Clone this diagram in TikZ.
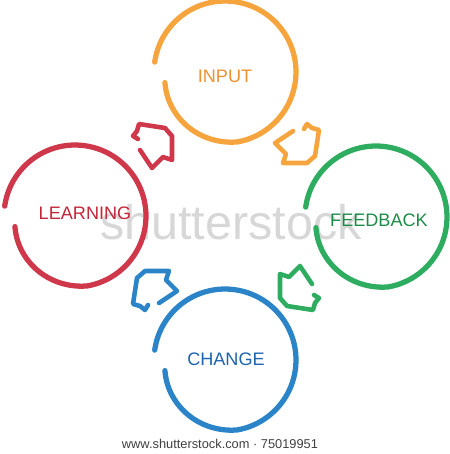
\documentclass[tikz,border=0pt]{standalone}
\usepackage{fontspec}
\setmainfont{Liberation Sans}
\usepackage{xcolor}
\usepackage{tikz}

\definecolor{orangeink}{RGB}{246,164,62}
\definecolor{redink}{RGB}{207,55,75}
\definecolor{greenink}{RGB}{46,172,96}
\definecolor{blueink}{RGB}{43,132,200}
\definecolor{orangetext}{RGB}{236,146,48}
\definecolor{redtext}{RGB}{196,36,56}
\definecolor{greentext}{RGB}{28,140,72}
\definecolor{bluetext}{RGB}{28,100,176}

\begin{document}
\begin{tikzpicture}[x=0.02cm, y=-0.02cm,
    ring/.style={line width=3pt, line cap=round},
    bentarrow/.style={line width=2.6pt, line cap=round, line join=round},
    every node/.style={font=\fontsize{10.3}{12}\selectfont}]
    \useasboundingbox (0,0) rectangle (450,454);

    % watermark
    \node[text=gray!45, opacity=0.7, font=\fontsize{27.6}{30}\selectfont] (mark) at (231,222) {shutterstock};

    % rings
    \coordinate (mid) at (226,217);
    \coordinate (inputring) at (225,72);
    \coordinate (learningring) at (75,216);
    \coordinate (feedbackring) at (376,217);
    \coordinate (changering) at (225,360);
    \foreach \ctr/\col in {inputring/orangeink, learningring/redink, feedbackring/greenink, changering/blueink}
        \draw[ring, \col, shift={(\ctr)}] plot[domain=170:-172, samples=100, smooth] (\x:{71-10*max(0,1-(170-\x)/90)});

    % bent arrows, one turned a quarter further each time
    \foreach \ang/\col in {0/redink, -90/orangeink, -180/greenink, -270/blueink}
        \draw[bentarrow, \col, rotate around={\ang:(mid)}]
            (140,150) -- (152,168) -- (163,157) -- (172,160) -- (172,136) -- (165,128)
            -- (139,124) -- (137,131) -- (133,136) -- (138,139);

    % labels
    \node[text=orangetext] (input) at (225,76) {INPUT};
    \node[text=redtext] (learning) at (85,213) {LEARNING};
    \node[text=greentext] (feedback) at (379,220) {FEEDBACK};
    \node[text=bluetext] (change) at (226,359) {CHANGE};

    \node[text=black!75, font=\fontsize{7.3}{9}\selectfont] (credit) at (220,444) {www.shutterstock.com · 75019951};
\end{tikzpicture}
\end{document}
